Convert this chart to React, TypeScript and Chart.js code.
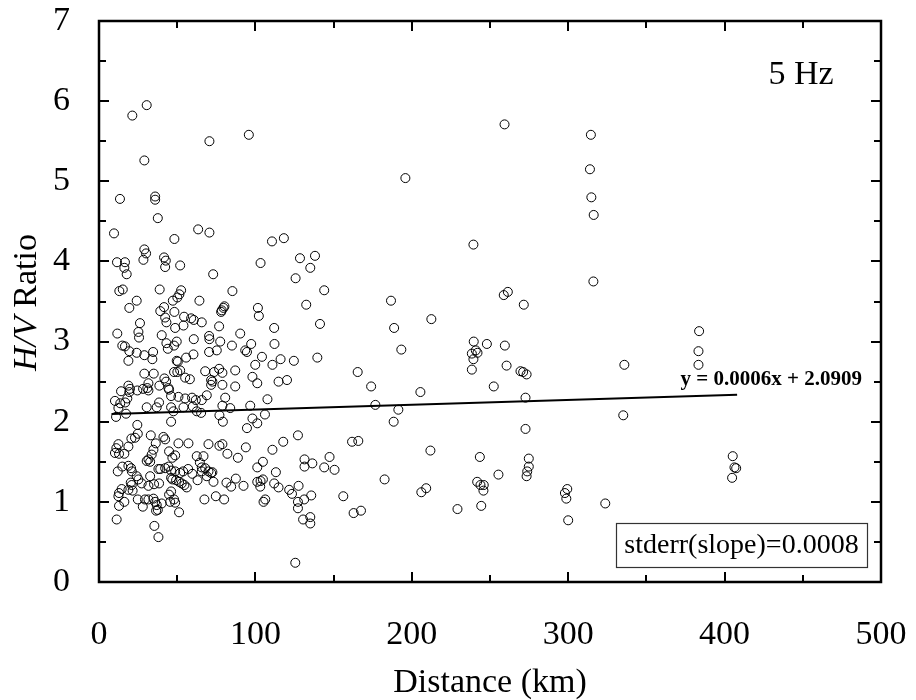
import React, { useEffect, useRef } from "react";
import { Chart, registerables } from "chart.js";

Chart.register(...registerables);

// [distance km, H/V ratio] observations, grouped by distance band
const band0to67: number[][] = [
  [30.5,5.95],[21.3,5.82],[29.0,5.26],[13.4,4.78],[35.9,4.81],[35.9,4.77],[37.6,4.54],[9.6,4.35],[63.4,4.40],[48.2,4.28],
  [29.0,4.15],[30.1,4.10],[28.4,4.02],[41.6,4.05],[42.7,4.01],[42.3,3.93],[51.9,3.95],[11.5,3.99],[16.6,3.99],[16.2,3.92],
  [17.7,3.84],[13.0,3.63],[15.2,3.65],[38.8,3.65],[24.1,3.51],[19.4,3.42],[52.5,3.64],[51.4,3.59],[50.1,3.55],[47.2,3.51],
  [64.2,3.51],[41.6,3.43],[39.2,3.38],[48.2,3.37],[26.2,3.23],[42.3,3.30],[43.1,3.24],[54.4,3.31],[58.9,3.29],[60.6,3.27],
  [65.7,3.24],[48.7,3.17],[54.0,3.20],
  [11.7,3.10],[25.2,3.12],[25.6,3.05],[40.1,3.08],[43.1,2.98],[44.0,2.91],[48.0,2.95],[49.7,3.00],[60.6,3.03],
  [14.9,2.95],[16.6,2.94],[19.4,2.88],[24.1,2.86],[18.8,2.76],[29.0,2.83],[34.6,2.87],[34.1,2.78],[49.7,2.76],[50.4,2.75],
  [55.7,2.80],[60.4,2.84],[29.0,2.60],[35.0,2.60],[48.0,2.62],[50.1,2.62],[51.9,2.64],[41.8,2.54],[42.9,2.50],[55.1,2.55],
  [58.1,2.53],[18.8,2.45],[19.8,2.41],[19.4,2.37],[14.1,2.38],[24.5,2.39],[28.2,2.41],[30.9,2.42],[31.6,2.39],[31.6,2.48],
  [38.6,2.45],[44.4,2.42],[44.8,2.40],[46.1,2.32],[50.8,2.31],[55.1,2.29],[59.5,2.30],[61.9,2.27],[65.7,2.27],
  [10.2,2.26],[13.6,2.23],[16.8,2.24],[18.1,2.29],[12.4,2.17],[17.3,2.10],[10.9,2.06],[30.5,2.18],[36.9,2.18],[38.4,2.24],
  [46.1,2.18],[54.0,2.18],[60.0,2.19],[47.6,2.13],[62.5,2.13],[65.3,2.11],[46.1,2.00],[24.5,1.96],
];

const band0to67Low: number[][] = [
  [12.4,1.72],[11.1,1.67],[10.2,1.61],[12.8,1.60],[16.2,1.60],[18.8,1.69],[20.7,1.79],[23.0,1.80],[24.8,1.85],[33.1,1.83],
  [41.2,1.81],[42.3,1.78],[36.3,1.73],[34.8,1.65],[33.7,1.59],[50.8,1.73],[57.2,1.73],[44.8,1.63],[48.7,1.58],[46.9,1.55],
  [30.5,1.51],[31.6,1.53],[32.7,1.50],[38.0,1.41],[39.2,1.41],[18.8,1.45],[20.5,1.42],[21.0,1.38],[12.0,1.38],[14.9,1.44],
  [24.1,1.32],[25.2,1.28],[32.7,1.32],[42.3,1.42],[44.4,1.44],[46.1,1.39],[48.7,1.38],[51.9,1.36],[53.8,1.38],[57.0,1.41],
  [59.7,1.35],[46.1,1.30],[46.9,1.28],[49.3,1.27],[51.2,1.25],[52.9,1.23],[54.6,1.21],[56.1,1.18],[20.3,1.24],[20.9,1.21],
  [18.8,1.15],[14.5,1.16],[12.8,1.11],[12.4,1.07],[16.2,1.00],[12.8,0.95],[21.5,1.14],[27.3,1.23],[31.6,1.20],[35.2,1.22],
  [38.4,1.23],[24.8,1.03],[28.0,0.94],[29.4,1.03],[31.6,1.03],[34.8,1.04],[35.9,1.00],[36.9,0.96],[37.6,0.90],[36.5,0.89],
  [40.1,0.98],[44.8,1.09],[46.1,1.13],[45.5,1.00],[48.0,1.03],[48.7,0.99],[51.2,0.87],[11.3,0.78],[35.4,0.70],[38.0,0.56],
  [62.5,1.57],[64.5,1.49],[65.7,1.43],[67.9,1.42],[66.8,1.57],[63.0,1.27],[65.7,1.38],
];

const band67to135: number[][] = [
  [70.6,5.50],[95.8,5.58],[70.6,4.36],[110.6,4.25],[118.2,4.29],[103.3,3.98],[128.5,4.04],[125.7,3.79],[73.0,3.84],[85.3,3.63],
  [78.5,3.39],[79.6,3.42],[80.2,3.44],[78.1,3.37],[101.6,3.42],[102.2,3.32],[132.5,3.46],[76.8,3.19],[112.0,3.17],
  [90.3,3.10],[70.4,3.07],[70.6,3.03],[77.5,3.00],[85.0,2.95],[97.3,2.97],[112.2,2.97],[75.3,2.89],[70.4,2.87],[93.5,2.89],
  [94.6,2.87],[99.9,2.71],[104.2,2.81],[110.9,2.71],[116.1,2.78],[124.6,2.76],[67.9,2.63],[73.6,2.62],[76.8,2.66],[78.9,2.61],
  [87.1,2.64],[71.7,2.52],[72.5,2.50],[71.7,2.46],[78.9,2.46],[87.1,2.44],[98.1,2.56],[101.2,2.48],[114.8,2.50],[120.2,2.52],
  [68.9,2.33],[80.7,2.30],[78.9,2.20],[83.9,2.17],[96.7,2.20],[107.7,2.28],[77.0,2.08],[79.2,2.00],[98.1,2.04],[101.2,1.98],
  [106.1,2.09],[94.6,1.92],[127.2,1.83],[70.0,1.72],[77.0,1.70],[78.9,1.72],[93.9,1.68],[82.1,1.60],[88.8,1.55],[117.8,1.75],
  [110.9,1.65],[70.0,1.38],[71.7,1.36],[72.5,1.37],[68.9,1.32],[73.2,1.25],[101.2,1.43],[104.8,1.50],[113.1,1.37],[87.5,1.29],
  [81.5,1.24],[84.5,1.19],[92.4,1.20],[101.2,1.25],[103.3,1.26],[104.8,1.28],[103.1,1.19],[112.0,1.23],[114.8,1.18],[121.6,1.15],
  [123.4,1.10],[127.6,1.20],[127.2,1.00],[127.2,0.92],[130.5,0.78],[67.4,1.03],[74.7,1.07],[80.0,1.03],[105.2,1.00],[106.3,1.03],
  [125.5,0.24],
];

const band135to256: number[][] = [
  [195.9,5.04],[138.1,4.07],[135.1,3.92],[144.0,3.64],[141.3,3.22],[139.6,2.80],[239.4,4.21],[186.7,3.51],[212.5,3.28],[188.7,3.17],
  [193.3,2.90],[239.6,3.00],[240.9,2.89],[242.0,2.86],[238.4,2.85],[239.4,2.78],[238.4,2.65],[248.0,2.97],[252.4,2.44],[165.4,2.62],
  [174.0,2.44],[205.5,2.37],[176.7,2.21],[191.4,2.15],[188.4,2.00],[161.8,1.75],[165.8,1.76],[211.9,1.64],[243.5,1.56],[131.4,1.53],
  [131.4,1.44],[136.4,1.48],[147.4,1.56],[144.0,1.43],[150.6,1.40],[135.7,1.08],[131.2,1.03],[156.2,1.07],[182.6,1.28],[206.1,1.12],
  [209.2,1.17],[241.8,1.25],[243.9,1.21],[246.0,1.21],[245.8,1.14],[255.4,1.34],[229.2,0.91],[244.4,0.95],[135.1,0.81],[135.1,0.73],
  [162.8,0.86],[167.5,0.89],
];

const band256to410: number[][] = [
  [259.3,5.71],[314.5,5.58],[313.9,5.15],[314.8,4.80],[316.3,4.58],[316.1,3.75],[258.8,3.58],[261.4,3.62],[271.6,3.46],[259.5,2.95],
  [260.6,2.70],[269.5,2.63],[271.2,2.62],[273.4,2.59],[272.7,2.30],[272.7,1.91],[274.8,1.54],[274.8,1.44],[273.8,1.38],[273.4,1.32],
  [299.4,1.16],[297.9,1.11],[298.8,1.04],[300.0,0.77],[323.7,0.98],[335.9,2.71],[335.2,2.08],[383.7,3.13],[383.3,2.88],[383.3,2.71],
  [405.2,1.57],[406.3,1.43],[407.4,1.42],[404.8,1.30],
];

// Linear fit: y = 0.0006x + 2.0909
const fitSlope = 0.0006;
const fitIntercept = 2.0909;
const fitRangeKm = [8, 408];

const xAxisRange = [0, 500];
const yAxisRange = [0, 7];
const xMinorStep = 50;
const yMinorStep = 0.5;

const equationLabel = "y = 0.0006x + 2.0909";
const stderrLabel = "stderr(slope)=0.0008";
const freqLabel = "5 Hz";
const xTitle = "Distance (km)";

const SERIF = "'Liberation Serif', 'Times New Roman', serif";

export default function App() {
  const ref = useRef<HTMLCanvasElement | null>(null);

  useEffect(() => {
    const canvas = ref.current;
    if (!canvas) return;

    const points = [...band0to67, ...band0to67Low, ...band67to135, ...band135to256, ...band256to410].map(
      ([x, y]) => ({ x, y })
    );
    const fitLine = fitRangeKm.map((x) => ({ x, y: fitSlope * x + fitIntercept }));

    const framePlugin = {
      id: "frameAndNotes",
      afterDraw(chart: any) {
        const { ctx, chartArea, scales } = chart;
        const xs = scales.x;
        const ys = scales.y;
        const { left, right, top, bottom } = chartArea;
        ctx.save();
        ctx.strokeStyle = "#000";
        ctx.lineWidth = 2.5;
        ctx.strokeRect(left, top, right - left, bottom - top);
        ctx.lineWidth = 2;
        ctx.beginPath();
        for (let v = xAxisRange[0]; v <= xAxisRange[1] + 1e-9; v += xMinorStep) {
          const px = Math.round(xs.getPixelForValue(v));
          const len = v % 100 === 0 ? 10 : 7;
          ctx.moveTo(px, bottom);
          ctx.lineTo(px, bottom - len);
          ctx.moveTo(px, top);
          ctx.lineTo(px, top + len);
        }
        for (let v = yAxisRange[0]; v <= yAxisRange[1] + 1e-9; v += yMinorStep) {
          const py = Math.round(ys.getPixelForValue(v));
          const len = Math.abs(v - Math.round(v)) < 1e-9 ? 10 : 7;
          ctx.moveTo(left, py);
          ctx.lineTo(left + len, py);
          ctx.moveTo(right, py);
          ctx.lineTo(right - len, py);
        }
        ctx.stroke();

        // Y title with italic H/V
        ctx.save();
        ctx.translate(27, (top + bottom) / 2 + 1);
        ctx.rotate(-Math.PI / 2);
        ctx.fillStyle = "#000";
        ctx.textBaseline = "middle";
        ctx.textAlign = "left";
        const italic = `italic 34px ${SERIF}`;
        const normal = `34px ${SERIF}`;
        ctx.font = italic;
        const w1 = ctx.measureText("H/V").width;
        ctx.font = normal;
        const w2 = ctx.measureText(" Ratio").width;
        const start = -(w1 + w2) / 2;
        ctx.font = italic;
        ctx.fillText("H/V", start, 0);
        ctx.font = normal;
        ctx.fillText(" Ratio", start + w1, 0);
        ctx.restore();

        // 5 Hz
        ctx.fillStyle = "#000";
        ctx.font = `34px ${SERIF}`;
        ctx.textAlign = "center";
        ctx.textBaseline = "middle";
        ctx.fillText(freqLabel, right - 80, top + 54);

        // Equation
        ctx.font = `bold 21px ${SERIF}`;
        ctx.textAlign = "right";
        ctx.textBaseline = "alphabetic";
        ctx.fillText(equationLabel, right - 19, ys.getPixelForValue(2.46));

        // stderr box
        const bx = right - 265;
        const by = bottom - 59;
        const bw = 251;
        const bh = 44;
        ctx.lineWidth = 1.2;
        ctx.strokeStyle = "#333";
        ctx.strokeRect(bx + 0.5, by + 0.5, bw, bh);
        ctx.font = `28px ${SERIF}`;
        ctx.textAlign = "center";
        ctx.textBaseline = "middle";
        ctx.fillText(stderrLabel, bx + bw / 2, by + bh / 2 + 1);
        ctx.restore();
      },
    };

    const chart = new Chart(canvas, {
      type: "scatter",
      data: {
        datasets: [
          {
            type: "scatter",
            data: points,
            pointStyle: "circle",
            pointRadius: 4.5,
            pointHoverRadius: 4.5,
            borderWidth: 1,
            borderColor: "#000",
            backgroundColor: "rgba(0,0,0,0)",
          },
          {
            type: "line",
            data: fitLine,
            borderColor: "#000",
            borderWidth: 2,
            pointRadius: 0,
            fill: false,
            showLine: true,
          } as any,
        ],
      },
      options: {
        animation: false,
        responsive: false,
        devicePixelRatio: 1,
        events: [],
        layout: { padding: { left: 0, top: 21, right: 35, bottom: 0 } },
        plugins: {
          legend: { display: false },
          tooltip: { enabled: false },
        },
        scales: {
          x: {
            type: "linear",
            position: "bottom",
            min: xAxisRange[0],
            max: xAxisRange[1],
            grid: { display: false, drawTicks: true, tickLength: 33 },
            border: { display: false },
            ticks: {
              stepSize: 100,
              color: "#000",
              font: { family: SERIF, size: 34 },
              padding: 0,
              maxRotation: 0,
            },
            title: {
              display: true,
              text: xTitle,
              color: "#000",
              font: { family: SERIF, size: 34, lineHeight: 1 },
              padding: 0,
            },
            afterFit: (s: any) => {
              s.height = 118;
            },
          },
          y: {
            type: "linear",
            position: "left",
            min: yAxisRange[0],
            max: yAxisRange[1],
            grid: { display: false, drawTicks: true, tickLength: 29 },
            border: { display: false },
            ticks: {
              stepSize: 1,
              color: "#000",
              font: { family: SERIF, size: 34 },
              padding: 0,
            },
            afterFit: (s: any) => {
              s.width = 99;
            },
          },
        },
      },
      plugins: [framePlugin],
    } as any);

    return () => chart.destroy();
  }, []);

  return (
    <div style={{ position: "fixed", left: 0, top: 0, width: 916, height: 700, background: "#fff" }}>
      <canvas ref={ref} width={916} height={700} style={{ display: "block", width: 916, height: 700 }} />
    </div>
  );
}
